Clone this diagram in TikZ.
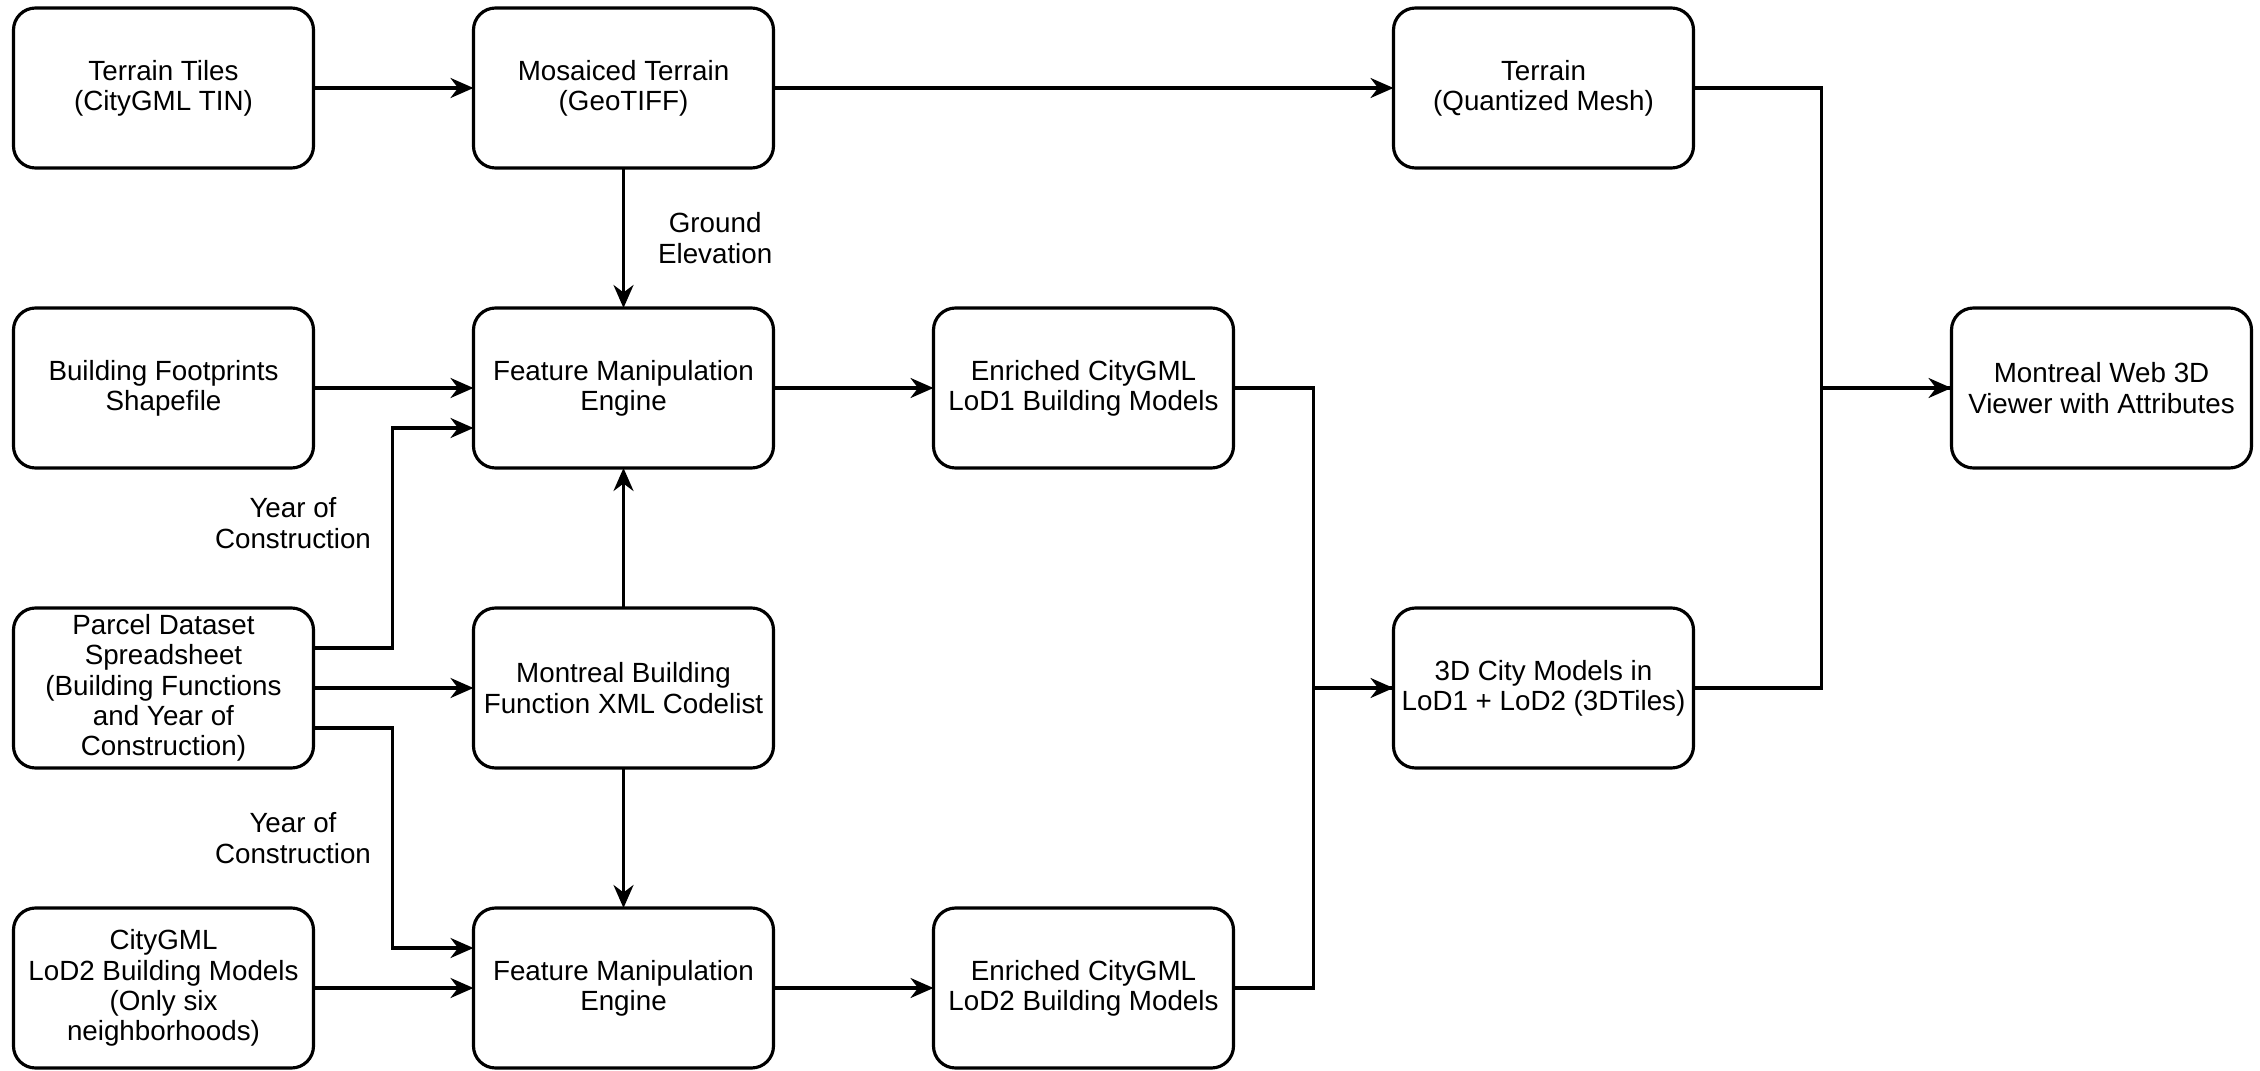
\documentclass[tikz,border=0pt]{standalone}
\usepackage{fontspec}
\setmainfont{Liberation Sans}
\usepackage{tikz}
\usetikzlibrary{arrows.meta, positioning}

\begin{document}
\begin{tikzpicture}[
    node distance=1.4cm and 1.6cm,
    box/.style={rectangle, draw=black, line width=0.9pt, rounded corners=2.2mm,
                minimum width=3cm, minimum height=1.6cm, inner sep=0pt, outer sep=0pt,
                font=\fontsize{7.9}{8.6}\selectfont, align=center},
    arr/.style={-{Stealth[length=2.3mm, width=2mm]}, line width=0.9pt},
    wire/.style={line width=0.9pt},
    lbl/.style={font=\fontsize{7.9}{8.6}\selectfont, align=center, inner sep=0pt}
  ]
    \useasboundingbox (0,0) rectangle (22.6,-10.71);

    \node[box] (tiles) at (1.635,-0.88) {Terrain Tiles\\(CityGML TIN)};
    \node[box, right=of tiles]        (mosaic)  {Mosaiced Terrain\\(GeoTIFF)};
    \node[box, right=6.2cm of mosaic] (qmesh)   {Terrain\\(Quantized Mesh)};
    \node[box, below=of tiles]        (prints)  {Building Footprints\\Shapefile};
    \node[box, below=of mosaic]       (fme1)    {Feature Manipulation\\Engine};
    \node[box, right=of fme1]         (enr1)    {Enriched CityGML\\LoD1 Building Models};
    \node[box, right=7.18cm of enr1]  (web)     {Montreal Web 3D\\Viewer with Attributes};
    \node[box, below=of prints]       (parcel)  {Parcel Dataset\\Spreadsheet\\(Building Functions\\and Year of\\Construction)};
    \node[box, below=of fme1]         (codes)   {Montreal Building\\Function XML Codelist};
    \node[box, right=6.2cm of codes]  (tiles3d) {3D City Models in\\LoD1 + LoD2 (3DTiles)};
    \node[box, below=of parcel]       (lod2)    {CityGML\\LoD2 Building Models\\(Only six\\neighborhoods)};
    \node[box, below=of codes]        (fme2)    {Feature Manipulation\\Engine};
    \node[box, right=of fme2]         (enr2)    {Enriched CityGML\\LoD2 Building Models};

    \draw[arr] (tiles)  -- (mosaic);
    \draw[arr] (mosaic) -- (qmesh);
    \draw[arr] (mosaic) -- (fme1) node[midway, right=3.3mm, lbl] {Ground\\Elevation};
    \draw[arr] (prints) -- (fme1);
    \draw[arr] ([yshift=4mm]parcel.east) -- ++(0.79,0) |- ([yshift=-4mm]fme1.west)
      node[pos=0.25, left=2mm, yshift=1.5mm, lbl] {Year of\\Construction};
    \draw[arr] (parcel) -- (codes);
    \draw[arr] ([yshift=-4mm]parcel.east) -- ++(0.79,0) |- ([yshift=4mm]fme2.west)
      node[pos=0.25, left=2mm, lbl] {Year of\\Construction};
    \draw[arr] (lod2)  -- (fme2);
    \draw[arr] (codes) -- (fme1);
    \draw[arr] (codes) -- (fme2);
    \draw[arr] (fme1)  -- (enr1);
    \draw[arr] (fme2)  -- (enr2);
    \draw[wire] (enr1.east) -- ++(0.8,0) |- (tiles3d.west);
    \draw[arr]  (enr2.east) -- ++(0.8,0) |- (tiles3d.west);
    \draw[wire] (qmesh.east) -- ++(1.28,0) |- (web.west);
    \draw[arr]  (tiles3d.east) -- ++(1.28,0) |- (web.west);
  \end{tikzpicture}
\end{document}
